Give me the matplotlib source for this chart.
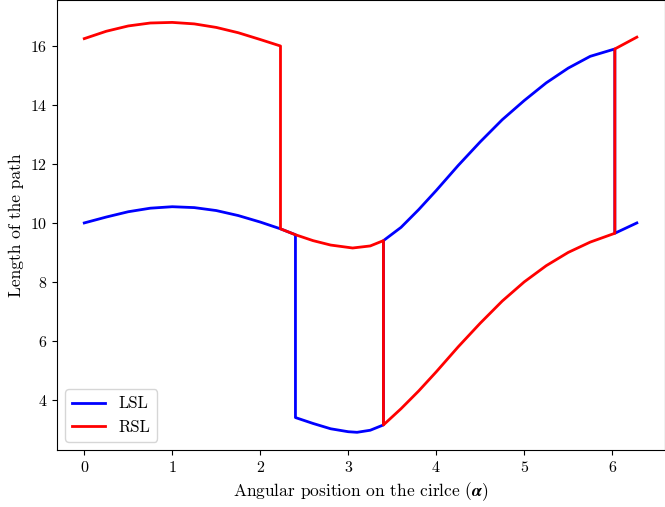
import matplotlib
matplotlib.use('Agg')
import matplotlib.pyplot as plt

plt.rcParams['font.family'] = 'serif'
plt.rcParams['font.serif'] = ['cmr10']
plt.rcParams['mathtext.fontset'] = 'cm'
plt.rcParams['axes.formatter.use_mathtext'] = True
plt.rcParams['font.size'] = 11.5

# LSL (blue)
lsl_x = [0, 0.25, 0.5, 0.75, 1.0, 1.25, 1.5, 1.75, 2.0, 2.23, 2.4,
         2.4, 2.6, 2.8, 3.0, 3.1, 3.25, 3.4,
         3.4, 3.6, 3.8, 4.0, 4.25, 4.5, 4.75, 5.0, 5.25, 5.5, 5.75, 6.03,
         6.03, 6.28]
lsl_y = [10.0, 10.2, 10.38, 10.5, 10.55, 10.52, 10.42, 10.25, 10.03, 9.8, 9.6,
         3.4, 3.2, 3.02, 2.92, 2.9, 2.97, 3.15,
         9.4, 9.85, 10.45, 11.1, 11.95, 12.75, 13.5, 14.15, 14.75, 15.25, 15.65, 15.9,
         9.65, 10.0]

# RSL (red)
rsl_x = [0, 0.25, 0.5, 0.75, 1.0, 1.25, 1.5, 1.75, 2.0, 2.23,
         2.23, 2.4, 2.6, 2.8, 3.05, 3.25, 3.4,
         3.4, 3.6, 3.8, 4.0, 4.25, 4.5, 4.75, 5.0, 5.25, 5.5, 5.75, 6.03,
         6.03, 6.28]
rsl_y = [16.25, 16.5, 16.68, 16.78, 16.8, 16.75, 16.63, 16.45, 16.22, 16.0,
         9.8, 9.6, 9.4, 9.25, 9.15, 9.22, 9.4,
         3.15, 3.7, 4.3, 4.95, 5.8, 6.6, 7.35, 8.0, 8.55, 9.0, 9.35, 9.65,
         15.9, 16.3]

fig = plt.figure(figsize=(6.65, 5.07), dpi=100)
ax = fig.add_axes([57 / 665, 57 / 507, 608 / 665, 450 / 507])
ax.plot(lsl_x, lsl_y, color='blue', lw=2, label='LSL')
ax.plot(rsl_x, rsl_y, color='red', lw=2, label='RSL')
ax.set_xlim(-0.31, 6.6)
ax.set_ylim(2.3, 17.56)
ax.set_xlabel(r'Angular position on the cirlce ($\boldsymbol{\alpha}$)', fontsize=12.5)
ax.set_ylabel('Length of the path', fontsize=12.5)
ax.legend(loc='lower left', fontsize=12)
fig.savefig('out.png', dpi=100)
